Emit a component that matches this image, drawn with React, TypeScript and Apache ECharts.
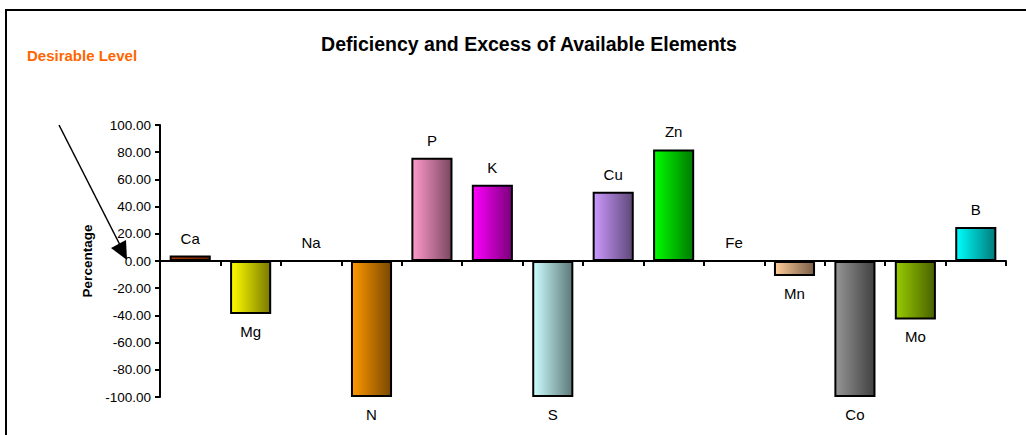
import React, { useEffect, useRef } from "react";
import * as echarts from "echarts";

const categories = ["Ca", "Mg", "Na", "N", "P", "K", "S", "Cu", "Zn", "Fe", "Mn", "Co", "Mo", "B"];
const values = [4, -39, 0, -100, 76, 56, -100, 51, 82, 0, -11, -100, -43, 25];
const lightColors = ["#B03A08", "#FFFF00", "#FFFFFF", "#FF9900", "#FF99CC", "#FF00FF", "#CCFFFF", "#CC99FF", "#00FF00", "#FFFFFF", "#FFCC99", "#969696", "#99CC00", "#00FFFF"];
const darkColors = ["#6B2000", "#7A7A00", "#FFFFFF", "#7A4800", "#7A4860", "#7A007A", "#5E7878", "#5E4878", "#007A00", "#FFFFFF", "#7A5E48", "#404040", "#486000", "#007A7A"];
const yTicks = { min: -100, max: 100, interval: 20 };

export default function App() {
  const ref = useRef<HTMLDivElement>(null);
  useEffect(() => {
    if (!ref.current) return;
    const chart = echarts.init(ref.current, null, { renderer: "svg" });
    const data = values.map((v, i) => ({
      value: v,
      itemStyle: {
        color: {
          type: "linear", x: 0, y: 0, x2: 1, y2: 0,
          colorStops: [
            { offset: 0, color: lightColors[i] },
            { offset: 1, color: darkColors[i] },
          ],
        },
      },
      label: { position: v < 0 ? "bottom" : "top" },
    }));
    chart.setOption({
      animation: false,
      backgroundColor: "#ffffff",
      title: {
        text: "Deficiency and Excess of Available Elements",
        left: 524,
        textAlign: "center",
        top: 29,
        textStyle: { fontFamily: "Liberation Sans, Arial", fontSize: 19.5, fontWeight: "bold", color: "#000" },
      },
      grid: { left: 160, right: 20, top: 125, bottom: 38, containLabel: false },
      xAxis: {
        type: "category",
        data: categories,
        axisLine: { onZero: true, lineStyle: { color: "#000", width: 2 } },
        axisTick: { show: true, inside: false, length: 5, alignWithLabel: false, lineStyle: { color: "#000", width: 2 } },
        axisLabel: { show: false },
        splitLine: { show: false },
      },
      yAxis: {
        type: "value",
        min: yTicks.min,
        max: yTicks.max,
        interval: yTicks.interval,
        name: "Percentage",
        nameLocation: "middle",
        nameGap: 66,
        nameRotate: 90,
        nameTextStyle: { fontFamily: "Liberation Sans, Arial", fontSize: 13.5, fontWeight: "bold", color: "#000" },
        axisLine: { show: true, lineStyle: { color: "#000", width: 2 } },
        axisTick: { show: true, length: 5, lineStyle: { color: "#000", width: 2 } },
        axisLabel: {
          margin: 9,
          fontFamily: "Liberation Sans, Arial",
          fontSize: 13.5,
          color: "#000",
          formatter: (v: number) => v.toFixed(2),
        },
        splitLine: { show: false },
      },
      series: [
        {
          type: "bar",
          data,
          barCategoryGap: "32%",
          itemStyle: { borderColor: "#000", borderWidth: 2 },
          label: {
            show: true,
            distance: 10,
            formatter: (p: any) => categories[p.dataIndex],
            fontFamily: "Liberation Sans, Arial",
            fontSize: 15,
            color: "#000",
          },
        },
      ],
      graphic: [
        {
          type: "rect",
          shape: { x: 6, y: 10, width: 1200, height: 600 },
          style: { fill: "none", stroke: "#000", lineWidth: 2 },
          silent: true,
          z: 100,
        },
        {
          type: "text",
          left: 27,
          top: 48,
          style: { text: "Desirable Level", fill: "#FF6600", font: "bold 15px Liberation Sans, Arial" },
        },
        {
          type: "line",
          shape: { x1: 59, y1: 125, x2: 120, y2: 245 },
          style: { stroke: "#000", lineWidth: 1.5 },
        },
        {
          type: "polygon",
          shape: { points: [[111, 248], [126, 240], [127, 260]] },
          style: { fill: "#000" },
        },
      ],
    });
    return () => chart.dispose();
  }, []);
  return <div ref={ref} style={{ position: "fixed", left: 0, top: 0, width: 1026, height: 435 }} />;
}
